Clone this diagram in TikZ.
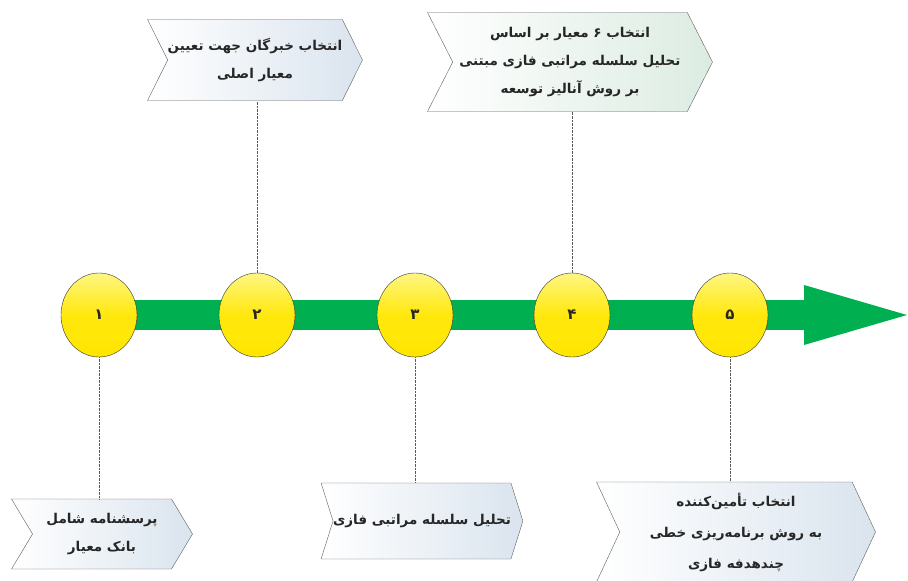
\documentclass[tikz,border=0pt]{standalone}
\usepackage{fontspec}
\newfontfamily\arabicfont[Script=Arabic]{DejaVu Sans}
\TeXXeTstate=1
\usetikzlibrary{shapes.symbols,shapes.geometric}
\definecolor{barGreen}{RGB}{0,176,80}
\definecolor{ballTop}{RGB}{255,246,130}
\definecolor{ballBottom}{RGB}{255,230,0}
\definecolor{boxBlue}{RGB}{218,228,238}
\definecolor{boxGreen}{RGB}{220,236,226}
\definecolor{edgeGray}{RGB}{95,95,95}
\tikzset{
	ball/.style = {ellipse, draw = black!80, thin, minimum width = 76pt, minimum height = 84pt,
		inner sep = 0pt, top color = ballTop, bottom color = ballBottom, middle color = ballBottom!90!ballTop,
		font = \arabicfont\bfseries\fontsize{15}{17}\selectfont, text = black!85},
	chevron/.style = {signal, signal from = west, signal to = east, draw = edgeGray, thin,
		inner sep = 0pt, align = center, text = black!85,
		left color = white, right color = boxBlue,
		font = \arabicfont\bfseries\fontsize{13.5}{28}\selectfont},
	leader/.style = {densely dotted, black!65, thin}
}
\begin{document}
\begin{tikzpicture}[x = 1pt, y = -1pt]
	\useasboundingbox (0,0) rectangle (908,581);
	% green time line
	\fill [barGreen] (130,300) rectangle (806,330);
	\fill [barGreen] (804,285) -- (907,315) -- (804,345) -- cycle;
	% steps
	\node [ball] (s1) at (99,315) {\beginR ۱\endR};
	\node [ball] (s2) at (257,315) {\beginR ۲\endR};
	\node [ball] (s3) at (415,315) {\beginR ۳\endR};
	\node [ball] (s4) at (572,315) {\beginR ۴\endR};
	\node [ball] (s5) at (730,315) {\beginR ۵\endR};
	% boxes
	\node [chevron, minimum width = 181pt, minimum height = 70pt, signal pointer angle = 118]
		(b1) at (102,534) {\beginR پرسشنامه شامل\endR\\\beginR بانک معیار\endR};
	\node [chevron, minimum width = 215pt, minimum height = 81pt, signal pointer angle = 127]
		(b2) at (255,60) {\beginR انتخاب خبرگان جهت تعیین\endR\\\beginR معیار اصلی\endR};
	\node [chevron, minimum width = 201pt, minimum height = 76pt, signal pointer angle = 145]
		(b3) at (422,521) {\beginR تحلیل سلسله مراتبی فازی\endR};
	\node [chevron, minimum width = 285pt, minimum height = 99pt, signal pointer angle = 126,
		right color = boxGreen]
		(b4) at (570,62) {\beginR انتخاب ۶ معیار بر اساس\endR\\\beginR تحلیل سلسله مراتبی فازی مبتنی\endR\\\beginR بر روش آنالیز توسعه\endR};
	\node [chevron, minimum width = 279pt, minimum height = 100pt, signal pointer angle = 130,
		font = \arabicfont\bfseries\fontsize{13.5}{31}\selectfont]
		(b5) at (736,532) {\beginR انتخاب تأمین‌کننده\endR\\\beginR به روش برنامه‌ریزی خطی\endR\\\beginR چندهدفه فازی\endR};
	% dotted leaders
	\draw [leader] (s1.south) -- (s1.south |- b1.north);
	\draw [leader] (s2.north) -- (s2.north |- b2.south);
	\draw [leader] (s3.south) -- (s3.south |- b3.north);
	\draw [leader] (s4.north) -- (s4.north |- b4.south);
	\draw [leader] (s5.south) -- (s5.south |- b5.north);
\end{tikzpicture}
\end{document}
